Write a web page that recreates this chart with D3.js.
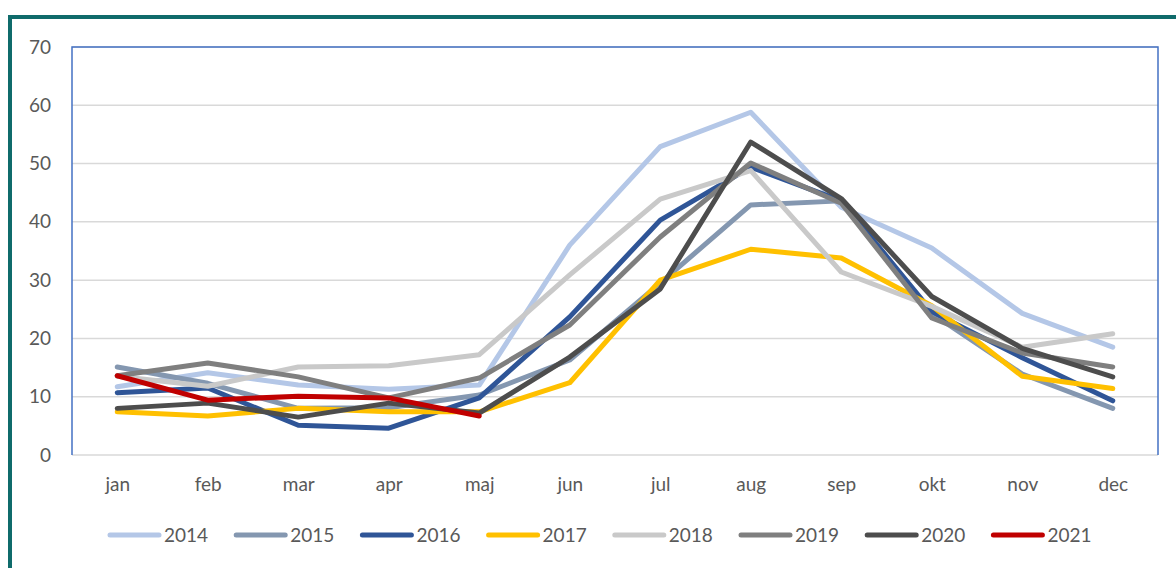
<!DOCTYPE html>
<html>
<head>
<meta charset="utf-8">
<script src="https://cdn.jsdelivr.net/npm/d3@7"></script>
<style>
  body { margin: 0; background: #fff; overflow: hidden; }
  svg { display: block; font-family: Lato, "Open Sans", sans-serif; }
</style>
</head>
<body>
<div id="chart"></div>
<script>
var months = ["jan", "feb", "mar", "apr", "maj", "jun", "jul", "aug", "sep", "okt", "nov", "dec"];
var years  = ["2014", "2015", "2016", "2017", "2018", "2019", "2020", "2021"];
var colors = ["#B4C7E7", "#8497B0", "#2F5597", "#FFC000", "#C9C9C9", "#7F7F7F", "#4D4D4D", "#C00000"];
var yTicks = [0, 10, 20, 30, 40, 50, 60, 70];

var v2014 = [11.7, 14.1, 12.0, 11.3, 12.0, 36.0, 52.9, 58.8, 42.5, 35.5, 24.3, 18.5];
var v2015 = [15.1, 12.3, 8.0, 8.1, 10.3, 16.3, 29.5, 42.9, 43.6, 24.3, 13.9, 8.0];
var v2016 = [10.7, 11.5, 5.1, 4.6, 9.8, 23.7, 40.3, 49.4, 43.6, 24.6, 16.7, 9.3];
var v2017 = [7.4, 6.7, 8.0, 7.4, 7.4, 12.4, 30.0, 35.3, 33.8, 25.6, 13.5, 11.4];
var v2018 = [13.5, 11.8, 15.1, 15.3, 17.2, 30.9, 43.9, 48.8, 31.4, 25.5, 18.5, 20.8];
var v2019 = [13.6, 15.8, 13.4, 9.8, 13.2, 22.3, 37.4, 50.1, 43.2, 23.5, 17.5, 15.1];
var v2020 = [8.0, 8.9, 6.5, 8.9, 7.2, 16.8, 28.5, 53.7, 44.0, 27.2, 18.3, 13.4];
var v2021 = [13.6, 9.4, 10.1, 9.8, 6.7];

var series = [v2014, v2015, v2016, v2017, v2018, v2019, v2020, v2021];

var W = 1176, H = 568;
var plotLeft = 72, plotRight = 1158, plotTop = 47, plotBottom = 455;

var svg = d3.select("#chart").append("svg")
  .attr("width", W)
  .attr("height", H);

// outer frame
svg.append("rect")
  .attr("x", 10).attr("y", 17)
  .attr("width", 1250).attr("height", 650)
  .attr("fill", "none")
  .attr("stroke", "#0F6B6B")
  .attr("stroke-width", 4);

var x = d3.scalePoint()
  .domain(months)
  .range([plotLeft, plotRight])
  .padding(0.5);

var y = d3.scaleLinear()
  .domain([0, 70])
  .range([plotBottom, plotTop]);

// gridlines
svg.append("g")
  .selectAll("line")
  .data(yTicks)
  .enter()
  .append("line")
    .attr("x1", plotLeft).attr("x2", plotRight)
    .attr("y1", function(d){ return y(d); })
    .attr("y2", function(d){ return y(d); })
    .attr("stroke", "#D9D9D9")
    .attr("stroke-width", 1.5);

// plot area border (left, top, right)
svg.append("path")
  .attr("d", "M" + plotLeft + "," + plotBottom + "V" + plotTop + "H" + plotRight + "V" + plotBottom)
  .attr("fill", "none")
  .attr("stroke", "#4472C4")
  .attr("stroke-width", 1.5);

// y axis labels
var yAxis = svg.append("g")
  .attr("transform", "translate(" + (plotLeft - 21) + ",0)")
  .call(d3.axisLeft(y).tickValues(yTicks).tickSize(0).tickPadding(0));
yAxis.select(".domain").remove();
yAxis.selectAll("text")
  .attr("fill", "#595959")
  .style("font-size", "19px")
  .style("font-family", "Lato, sans-serif");

// x axis labels
var xAxis = svg.append("g")
  .attr("transform", "translate(0," + plotBottom + ")")
  .call(d3.axisBottom(x).tickSize(0).tickPadding(23));
xAxis.select(".domain").remove();
xAxis.selectAll("text")
  .attr("fill", "#595959")
  .style("font-size", "19px")
  .style("font-family", "Lato, sans-serif");

var line = d3.line()
  .x(function(d, i){ return x(months[i]); })
  .y(function(d){ return y(d); });

svg.append("g")
  .selectAll("path")
  .data(series)
  .enter()
  .append("path")
    .attr("d", line)
    .attr("fill", "none")
    .attr("stroke", function(d, i){ return colors[i]; })
    .attr("stroke-width", 5)
    .attr("stroke-linejoin", "round")
    .attr("stroke-linecap", "round");

// legend
var legend = svg.append("g")
  .selectAll("g")
  .data(years)
  .enter()
  .append("g")
    .attr("transform", function(d, i){ return "translate(" + (110 + i * 126.2) + ",535)"; });

legend.append("line")
  .attr("x1", 0).attr("x2", 49)
  .attr("stroke", function(d, i){ return colors[i]; })
  .attr("stroke-width", 5)
  .attr("stroke-linecap", "round");

legend.append("text")
  .attr("x", 54)
  .attr("y", 7)
  .attr("fill", "#595959")
  .style("font-size", "19px")
  .text(function(d){ return d; });
</script>
</body>
</html>
